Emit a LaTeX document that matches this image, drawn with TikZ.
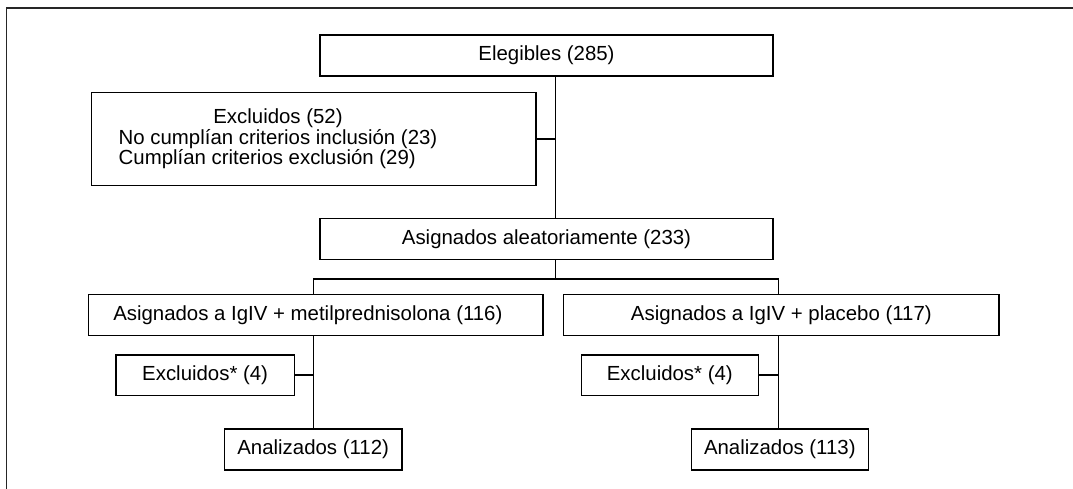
\documentclass[tikz,border=0pt]{standalone}
\usepackage{fontspec}
\setmainfont{Liberation Sans}
\newcommand{\boxfont}{\fontsize{20.4}{17}\selectfont}
\begin{document}
\begin{tikzpicture}[x=1pt,y=-1pt,
  box/.style={draw, line width=1.5pt, inner sep=0pt, font=\boxfont, text=black},
  conn/.style={line width=1.5pt},
  frameline/.style={line width=1.8pt, draw=black!85}]
\useasboundingbox (0,0) rectangle (1073,489);
\draw[frameline] (6.5,489) -- (6.5,8.3) -- (1073,8.3);

\node[box, minimum width=453pt, minimum height=41pt] (el) at (546.5,55.5) {Elegibles (285)};
\node[box, minimum width=444.5pt, minimum height=93pt] (ex) at (313.75,139.2)
  {\hspace*{-71.5pt}\begin{tabular}{@{}l@{}}\multicolumn{1}{@{}c@{}}{Excluidos (52)}\\No cumplían criterios inclusión (23)\\Cumplían criterios exclusión (29)\end{tabular}};
\node[box, minimum width=453pt, minimum height=40.8pt] (aa) at (546.5,238.9) {Asignados aleatoriamente (233)};
\node[box, minimum width=454.3pt, minimum height=41.4pt] (lb) at (315.85,315) {\hspace*{-16pt}Asignados a IgIV + metilprednisolona (116)};
\node[box, minimum width=435.3pt, minimum height=41.4pt] (rb) at (781.35,315) {Asignados a IgIV + placebo (117)};
\node[box, minimum width=178.3pt, minimum height=40.3pt] (lx) at (205.15,375.15) {Excluidos* (4)};
\node[box, minimum width=177.7pt, minimum height=41pt] (la) at (313.15,449.5) {Analizados (112)};
\node[box, minimum width=177pt, minimum height=40.3pt] (rx) at (669.8,375.15) {Excluidos* (4)};
\node[box, minimum width=177pt, minimum height=41pt] (ra) at (779.8,449.5) {Analizados (113)};

\coordinate (t1) at (555.5,0);
\coordinate (bl) at (313.3,279);
\coordinate (br) at (778.7,279);

\draw[conn] (el.south -| t1) -- (aa.north -| t1);
\draw[conn] (ex.east) -- (ex.east -| t1);
\draw[conn] (aa.south -| t1) -- (t1 |- bl);
\draw[conn] (lb.north -| bl) -- (bl) -- (br) -- (rb.north -| br);
\draw[conn] (lb.south -| bl) -- (la.north -| bl);
\draw[conn] (lx.east) -- (lx.east -| bl);
\draw[conn] (rb.south -| br) -- (ra.north -| br);
\draw[conn] (rx.east) -- (rx.east -| br);
\end{tikzpicture}
\end{document}
